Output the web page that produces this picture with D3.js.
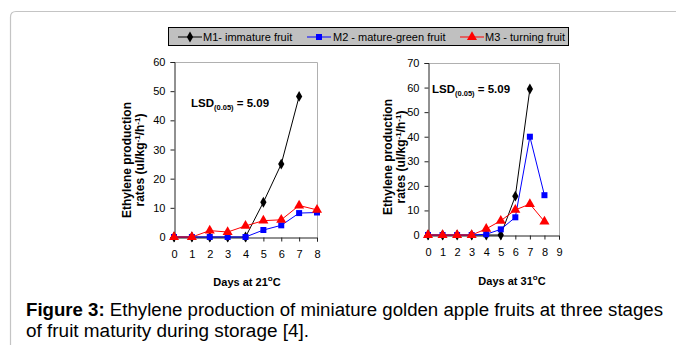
<!DOCTYPE html>
<html><head><meta charset="utf-8">
<script src="https://cdn.jsdelivr.net/npm/d3@7"></script>
<style>
body{margin:0;background:#fff;}
svg{display:block;font-family:Arial,"Liberation Sans",sans-serif;}
</style></head>
<body><svg id="c" width="676" height="345"></svg>
<script>
const days21 = [0,1,2,3,4,5,6,7,8];
const m1_21 = [0,0,0,0,0,11.9,25.0,48.2,null];
const m2_21 = [0,0,0,0,0,2.4,4.0,8.2,8.4];
const m3_21 = [0,0,2.2,1.7,3.8,5.6,5.9,10.8,9.3];
const days31 = [0,1,2,3,4,5,6,7,8];
const m1_31 = [0,0,0,0,0,0,15.8,59.4,null];
const m2_31 = [0,0,0,0,0.3,2.3,7.2,40.0,16.2];
const m3_31 = [0,0,0,0,2.5,5.8,10.2,12.6,5.5];
const seriesNames = ["M1- immature fruit","M2 - mature-green fruit","M3 - turning fruit"];
const seriesColors = ["#000000","#0000ff","#ff0000"];
const seriesShapes = ["diamond","square","triangle"];
const yTicks21 = [0,10,20,30,40,50,60];
const yTicks31 = [0,10,20,30,40,50,60,70];
const xTicks21 = [0,1,2,3,4,5,6,7,8];
const xTicks31 = [0,1,2,3,4,5,6,7,8,9];

const svg = d3.select("#c");

svg.append("path")
  .attr("d","M10.5,345 L10.5,17 Q10.5,11.5 16,11.5 L676,11.5")
  .attr("fill","none").attr("stroke","#c4c4c4").attr("stroke-width",1.2);

function symbolFor(s){
  if(s==="diamond") return d3.symbol().type(d3.symbolDiamond).size(34)();
  if(s==="square") return d3.symbol().type(d3.symbolSquare).size(36)();
  return d3.symbol().type(d3.symbolTriangle).size(44)();
}

function panel(cfg){
  const g = svg.append("g");
  const x = d3.scaleLinear().domain([0,cfg.xMax]).range([cfg.x0,cfg.x1]);
  const y = d3.scaleLinear().domain([0,cfg.yMax]).range([cfg.y0,cfg.y1]);
  g.append("path").attr("d",`M${cfg.x0},${cfg.y1+0.5} H${cfg.x1+0.5} V${cfg.y0}`)
    .attr("fill","none").attr("stroke","#b0b0b0").attr("stroke-width",1);
  const ya = g.append("g").attr("transform",`translate(${cfg.x0+0.5},0)`)
    .call(d3.axisLeft(y).tickValues(cfg.yTicks).tickSize(4).tickPadding(5).tickFormat(d3.format("d")));
  ya.select(".domain").attr("stroke","#222");
  ya.selectAll(".tick line").attr("stroke","#222");
  ya.selectAll("text").attr("font-size",11).attr("fill","#000").attr("font-family","Arial, Liberation Sans, sans-serif");
  const xa = g.append("g").attr("transform",`translate(0,${cfg.y0+0.5})`)
    .call(d3.axisBottom(x).tickValues(cfg.xTicks).tickSize(4).tickPadding(9).tickFormat(d3.format("d")));
  xa.select(".domain").attr("stroke","#222");
  xa.selectAll(".tick line").attr("stroke","#222");
  xa.selectAll("text").attr("font-size",11).attr("fill","#000").attr("font-family","Arial, Liberation Sans, sans-serif");

  cfg.series.forEach((vals,i)=>{
    const pts = cfg.days.map((d,k)=>({d,v:vals[k]})).filter(p=>p.v!==null);
    g.append("path").datum(pts)
      .attr("d",d3.line().x(p=>x(p.d)).y(p=>y(p.v)))
      .attr("fill","none").attr("stroke",seriesColors[i]).attr("stroke-width",1);
    g.selectAll(null).data(pts).enter().append("path")
      .attr("d",symbolFor(seriesShapes[i]))
      .attr("transform",p=>`translate(${x(p.d)},${y(p.v)})`)
      .attr("fill",seriesColors[i]);
  });

  const t = g.append("text").attr("x",cfg.lsdX).attr("y",cfg.lsdY)
    .attr("font-size",11.5).attr("font-weight","bold");
  t.append("tspan").text("LSD");
  t.append("tspan").attr("font-size",7.5).attr("dy",3).text("(0.05)");
  t.append("tspan").attr("dy",-3).text(" = 5.09");

  const xt = g.append("text").attr("x",cfg.xtX).attr("y",cfg.xtY)
    .attr("text-anchor","middle").attr("font-size",11).attr("font-weight","bold");
  xt.append("tspan").text(cfg.xtitle);
  xt.append("tspan").attr("font-size",8).attr("dy",-5).text("o");
  xt.append("tspan").attr("dy",5).text("C");

  const yt = g.append("g").attr("transform",`translate(${cfg.ytX},${cfg.ytY}) rotate(-90)`);
  yt.append("text").attr("x",0).attr("y",0).attr("text-anchor","middle")
    .attr("font-size",12).attr("font-weight","bold").text("Ethylene production");
  const y2 = yt.append("text").attr("x",0).attr("y",12.5).attr("text-anchor","middle")
    .attr("font-size",12).attr("font-weight","bold");
  y2.append("tspan").text("rates (ul/kg");
  y2.append("tspan").attr("font-size",8).attr("dy",-4).text("-1");
  y2.append("tspan").attr("dy",4).text("/h");
  y2.append("tspan").attr("font-size",8).attr("dy",-4).text("-1");
  y2.append("tspan").attr("dy",4).text(")");
}

panel({x0:174,x1:317,y0:237,y1:62,xMax:8,yMax:60,yTicks:yTicks21,xTicks:xTicks21,
  days:days21,series:[m1_21,m2_21,m3_21],lsdX:191,lsdY:107,
  xtitle:"Days at 21",xtX:247,xtY:286,ytX:131,ytY:160});
panel({x0:428,x1:559,y0:235,y1:63,xMax:9,yMax:70,yTicks:yTicks31,xTicks:xTicks31,
  days:days31,series:[m1_31,m2_31,m3_31],lsdX:432,lsdY:93,
  xtitle:"Days at 31",xtX:512,xtY:285,ytX:392,ytY:157});

const lg = svg.append("g");
lg.append("rect").attr("x",168.5).attr("y",27.5).attr("width",400).attr("height",18)
  .attr("fill","#c0c0c0").attr("stroke","#000").attr("stroke-width",1);
const legX = [178,307,460];
const legTX = [203,333,485];
seriesNames.forEach((n,i)=>{
  lg.append("line").attr("x1",legX[i]).attr("x2",legX[i]+24).attr("y1",37).attr("y2",37)
    .attr("stroke",seriesColors[i]).attr("stroke-width",1);
  lg.append("path").attr("d",symbolFor(seriesShapes[i]))
    .attr("transform",`translate(${legX[i]+12},37)`).attr("fill",seriesColors[i]);
  lg.append("text").attr("x",legTX[i]).attr("y",41).attr("font-size",11).text(n);
});

const cap = svg.append("text").attr("x",26).attr("y",316).attr("font-size",18)
  .attr("font-family","Arial, Liberation Sans, sans-serif").attr("textLength",637).attr("lengthAdjust","spacingAndGlyphs");
cap.append("tspan").attr("font-weight","bold").text("Figure 3:");
cap.append("tspan").text(" Ethylene production of miniature golden apple fruits at three stages");
svg.append("text").attr("x",26).attr("y",337).attr("font-size",18)
  .attr("font-family","Arial, Liberation Sans, sans-serif").attr("textLength",283).attr("lengthAdjust","spacingAndGlyphs")
  .text("of fruit maturity during storage [4].");
</script></body></html>
